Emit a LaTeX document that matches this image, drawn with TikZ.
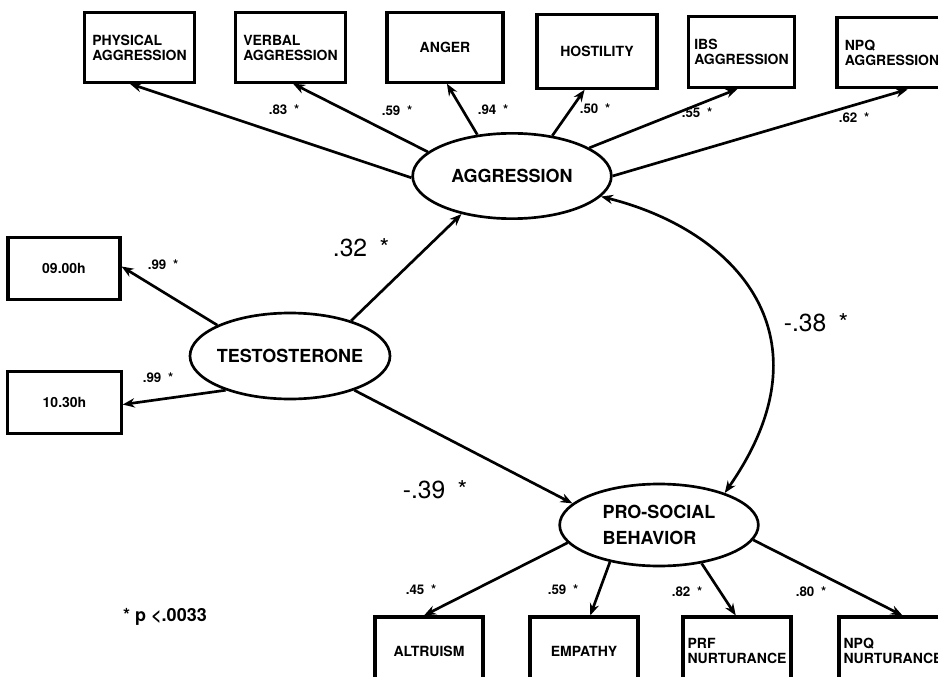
\documentclass[tikz,border=0pt]{standalone}
\usepackage{fontspec}
\setmainfont{TeX Gyre Heros}
\usetikzlibrary{shapes.geometric,arrows.meta}

\begin{document}
\begin{tikzpicture}[x=0.75pt, y=-0.75pt, >={Stealth[length=9pt,width=7pt]},
            ind/.style={draw, line width=2.3pt, inner sep=2pt, minimum width=82pt, minimum height=52pt,
            align=left, font=\bfseries\fontsize{10.5}{11.25}\selectfont},
            lat/.style={ellipse, draw, line width=2pt, minimum width=149pt, minimum height=63pt,
            label={[align=left, font=\bfseries\fontsize{13.5}{19.5}\selectfont]center:#1}},
            ld/.style={font=\bfseries\fontsize{10}{12}\selectfont},
            cf/.style={font=\fontsize{18.5}{20}\selectfont},
            arr/.style={->, line width=2pt}]
            \useasboundingbox (0,0) rectangle (938,677);
            \clip (0,0) rectangle (938,677);

            \node[ind, minimum width=83pt] (phy) at (139.5,47.5) {PHYSICAL\\AGGRESSION};
            \node[ind] (ver) at (290.5,47.5) {VERBAL\\AGGRESSION};
            \node[ind, minimum width=87pt] (ang) at (445,47.5) {ANGER};
            \node[ind, minimum width=90pt, minimum height=55pt] (hos) at (597,51.5) {HOSTILITY};
            \node[ind, minimum width=80pt, minimum height=53pt] (ibs) at (741.5,52) {IBS\\AGGRESSION};
            \node[ind, minimum width=82.5pt, minimum height=53pt] (npa) at (892,52.5) {NPQ\\AGGRESSION};

            \node[ind, minimum width=84pt, minimum height=47pt] (t09) at (64,268.5) {09.00h};
            \node[ind, minimum width=85pt, minimum height=46pt] (t10) at (64.5,402.5) {10.30h};

            \node[ind, minimum width=81pt, minimum height=51pt] (alt) at (429,651) {ALTRUISM};
            \node[ind, minimum width=81pt, minimum height=51pt] (emp) at (584,651) {EMPATHY};
            \node[ind, minimum width=81pt, minimum height=51pt] (prf) at (737,651) {PRF\\NURTURANCE};
            \node[ind, minimum width=81pt, minimum height=51pt] (npn) at (893,651) {NPQ\\NURTURANCE};

            \node[lat={AGGRESSION}, minimum height=64pt] (agg) at (512,176) {};
            \node[lat={TESTOSTERONE}, minimum width=150pt, minimum height=64.5pt] (tes) at (290,356) {};
            \node[lat={PRO-SOCIAL\\BEHAVIOR}, minimum height=61.5pt] (pro) at (659,525) {};

            \draw[arr] (agg.181) to (phy.255);
            \draw[arr] (agg.164) to (ver.274);
            \draw[arr] (agg.130) to (ang.273);
            \draw[arr] (agg.45) to (hos.252);
            \draw[arr] (agg.20) to (ibs.264);
            \draw[arr] (agg.0) to (npa.293);

            \draw[arr] (tes.157) to (t09.2);
            \draw[arr] (tes.208) to (t10.358);
            \draw[arr] (tes.30) to (agg.217);
            \draw[arr] (tes.332) to (pro.166);

            \draw[arr, <->] (agg.347) .. controls +(136,34) and +(109,-156) .. (pro.26);

            \draw[arr] (pro.191) to (alt.98);
            \draw[arr] (pro.217) to (emp.80);
            \draw[arr] (pro.318) to (prf.92);
            \draw[arr] (pro.351) to (npn.75);

            \node[ld] (l1) at (284,110) {.83\enspace*};
            \node[ld] (l2) at (397,111) {.59\enspace*};
            \node[ld] (l3) at (493,110) {.94\enspace*};
            \node[ld] (l4) at (595,109) {.50\enspace*};
            \node[ld] (l5) at (697,113) {.55\enspace*};
            \node[ld] (l6) at (854,118) {.62\enspace*};
            \node[ld] (l7) at (163,265) {.99\enspace*};
            \node[ld] (l8) at (158,378) {.99\enspace*};
            \node[ld] (l9) at (421,590) {.45\enspace*};
            \node[ld] (l10) at (563,590) {.59\enspace*};
            \node[ld] (l11) at (687,592) {.82\enspace*};
            \node[ld] (l12) at (811,592) {.80\enspace*};

            \node[cf] (c1) at (361,248) {.32\enspace*};
            \node[cf] (c2) at (435,490) {-.39\enspace*};
            \node[cf] (c3) at (816,323) {-.38\enspace*};

            \node[font=\bfseries\fontsize{13.5}{15}\selectfont] (note) at (165,617) {* p <.0033};
        \end{tikzpicture}
\end{document}
